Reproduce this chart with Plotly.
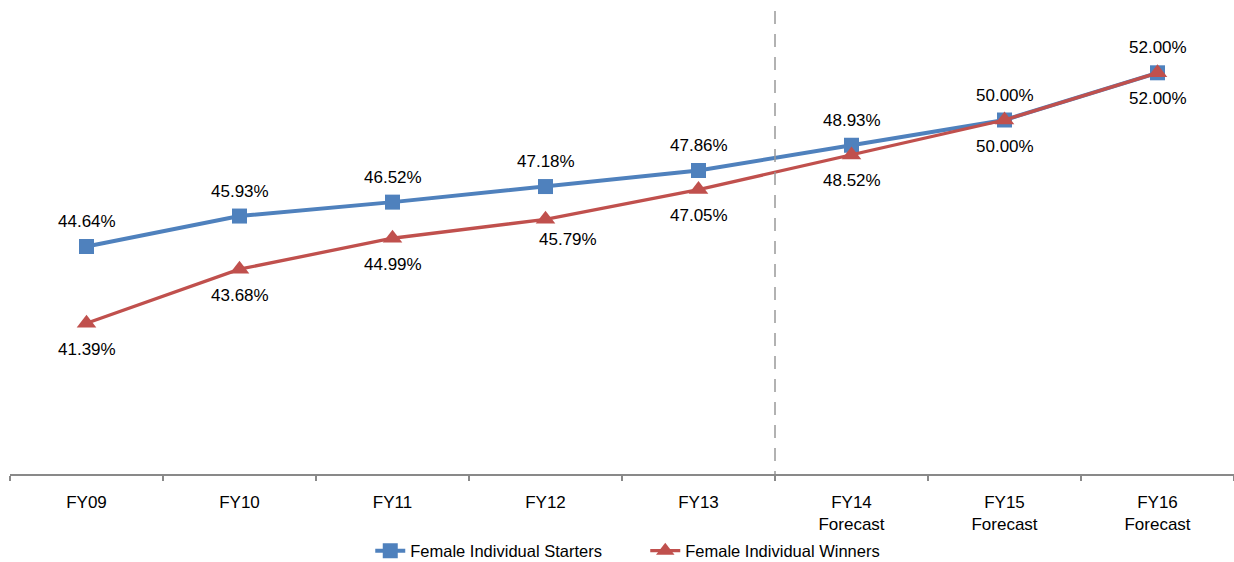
import plotly.graph_objects as go

# Fiscal-year categories and the two female participation series (percent)
categories = ["FY09", "FY10", "FY11", "FY12", "FY13",
              "FY14<br>Forecast", "FY15<br>Forecast", "FY16<br>Forecast"]
starters = [44.64, 45.93, 46.52, 47.18, 47.86, 48.93, 50.00, 52.00]
winners = [41.39, 43.68, 44.99, 45.79, 47.05, 48.52, 50.00, 52.00]

BLUE = "#4F81BD"
RED = "#C0504D"
FONT = "Liberation Sans, Arial, sans-serif"

fig = go.Figure()

fig.add_trace(go.Scatter(
    x=categories, y=starters, name="Female Individual Starters",
    mode="lines+markers",
    line=dict(color=BLUE, width=4),
    marker=dict(symbol="square", size=15, color=BLUE),
))
fig.add_trace(go.Scatter(
    x=categories, y=winners, name="Female Individual Winners",
    mode="lines+markers",
    line=dict(color=RED, width=3.3),
    marker=dict(symbol="triangle-up", size=17, color=RED),
))

# Value labels: starters above their points, winners below
for cat, v in zip(categories, starters):
    fig.add_annotation(x=cat, y=v, text=f"{v:.2f}%", showarrow=False,
                       yshift=25, font=dict(family=FONT, size=17, color="#000"))
for i, (cat, v) in enumerate(zip(categories, winners)):
    xs = 22 if i == 3 else 0
    ys = -20 if i == 3 else -26
    fig.add_annotation(x=cat, y=v, text=f"{v:.2f}%", showarrow=False,
                       xshift=xs, yshift=ys,
                       font=dict(family=FONT, size=17, color="#000"))

# Divider between actuals and forecasts (drawn top-down so the dash starts at the top)
fig.add_shape(type="line", xref="x", yref="paper", x0=4.5, x1=4.5,
              y0=0.981, y1=0,
              line=dict(color="#999999", width=1.5, dash="13px,10px"))

fig.update_layout(
    width=1234, height=562,
    margin=dict(l=10, r=0, t=2, b=88, autoexpand=False),
    paper_bgcolor="white", plot_bgcolor="white",
    font=dict(family=FONT, size=17, color="#000"),
    showlegend=True,
    legend=dict(orientation="h", x=0.519, xanchor="center",
                y=-0.163, yanchor="middle",
                font=dict(family=FONT, size=16.5, color="#000"),
                itemwidth=30, tracegroupgap=0,
                entrywidth=230, entrywidthmode="pixels"),
    xaxis=dict(type="category", showgrid=False, zeroline=False,
               showline=True, linecolor="#898989", linewidth=1.5,
               ticks="outside", tickson="boundaries", ticklen=5,
               tickcolor="#898989", tickwidth=1.5,
               ticklabelstandoff=12, automargin=False,
               tickfont=dict(family=FONT, size=17, color="#000"),
               range=[-0.5, 7.5]),
    yaxis=dict(range=[35, 55], visible=False, showgrid=False),
)

fig.write_html("out.html")
